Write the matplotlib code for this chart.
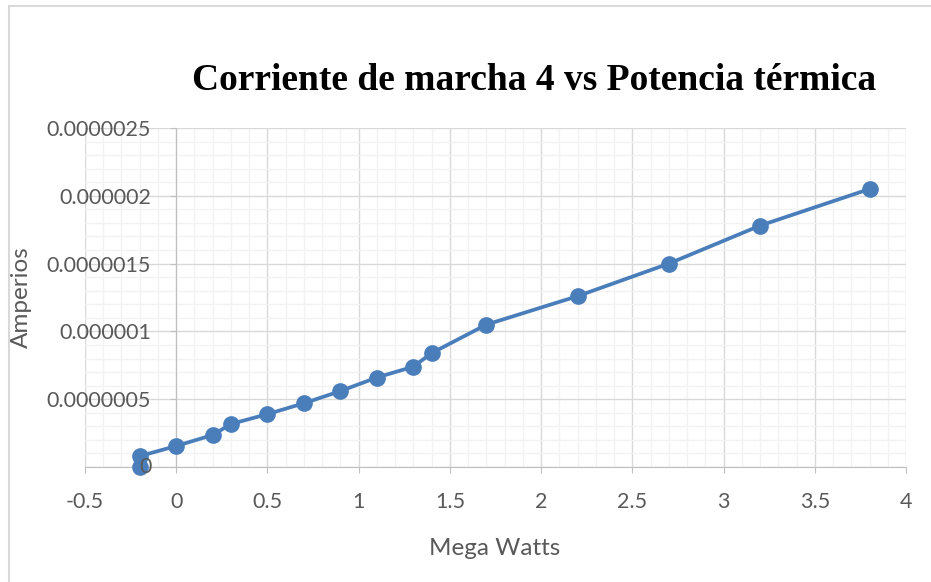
import numpy as np
import matplotlib
matplotlib.use("Agg")
import matplotlib.pyplot as plt
from matplotlib.patches import Rectangle
from matplotlib.ticker import MultipleLocator

# datos
potencia = [-0.2, -0.2, 0.0, 0.2, 0.3, 0.5, 0.7, 0.9, 1.1, 1.3, 1.4, 1.7, 2.2, 2.7, 3.2, 3.8]
corriente = [0.0, 0.08e-6, 0.155e-6, 0.236e-6, 0.317e-6, 0.39e-6, 0.47e-6, 0.56e-6,
             0.66e-6, 0.74e-6, 0.84e-6, 1.05e-6, 1.26e-6, 1.50e-6, 1.78e-6, 2.05e-6]

xticks = [-0.5, 0, 0.5, 1, 1.5, 2, 2.5, 3, 3.5, 4]
xlabels = ["-0.5", "0", "0.5", "1", "1.5", "2", "2.5", "3", "3.5", "4"]
yticks = [0, 0.5e-6, 1e-6, 1.5e-6, 2e-6, 2.5e-6]
ylabels = ["0", "0.0000005", "0.000001", "0.0000015", "0.000002", "0.0000025"]

gris_txt = "#595959"
azul = "#4a7ebb"
fs_tick = 15.5

fig = plt.figure(figsize=(9.31, 5.82), dpi=100)
ax = fig.add_axes([85/931, 1-467/582, (906-85)/931, (467-128)/582])

# borde del area del grafico
fig.patches.append(Rectangle((9/931, -0.1), 1.2, 1-6/582+0.1, transform=fig.transFigure,
                             fill=False, edgecolor="#d9d9d9", linewidth=1.5))

ax.set_xlim(-0.5, 4)
ax.set_ylim(0, 2.5e-6)
ax.xaxis.set_minor_locator(MultipleLocator(0.1))
ax.yaxis.set_minor_locator(MultipleLocator(0.1e-6))
ax.grid(which="minor", color="#f2f2f2", linewidth=1.0, zorder=0)
ax.grid(which="major", color="#d9d9d9", linewidth=1.0, zorder=0)
ax.set_axisbelow(True)

ax.set_xticks(xticks)
ax.set_xticklabels(xlabels)
ax.set_yticks(yticks)
# la etiqueta "0" va encima del marcador, se dibuja aparte
ax.set_yticklabels([""] + ylabels[1:])

for s in ["top", "right"]:
    ax.spines[s].set_visible(False)
ax.spines["left"].set_position(("data", 0))
ax.spines["left"].set_color("#bfbfbf")
ax.spines["bottom"].set_color("#bfbfbf")

ax.tick_params(which="minor", length=0)
ax.tick_params(axis="x", which="major", direction="out", length=4, color="#bfbfbf",
               pad=14, labelsize=fs_tick, labelcolor=gris_txt)
ax.tick_params(axis="y", which="major", direction="out", length=4, color="#bfbfbf",
               pad=14, labelsize=fs_tick, labelcolor=gris_txt)
for t in ax.get_xticklabels() + ax.get_yticklabels():
    t.set_fontfamily("Lato")

ax.plot(potencia, corriente, color=azul, linewidth=2.7, marker="o", markersize=11,
        zorder=3, clip_on=False)

ax.annotate(ylabels[0], xy=(0, yticks[0]), xytext=(-24, 0), textcoords="offset pixels",
            ha="right", va="center", fontsize=fs_tick, color=gris_txt, family="Lato",
            zorder=5, annotation_clip=False)

ax.set_xlabel("Mega Watts", fontsize=17.5, color=gris_txt, family="Lato")
ax.xaxis.set_label_coords((495-85)/(906-85), (467-538)/(467-128))
ax.set_ylabel("Amperios", fontsize=17.5, color=gris_txt, family="Lato")
ax.yaxis.set_label_coords((32-85)/(906-85), (467-297)/(467-128))

fig.text(534/931, 1-81/582, "Corriente de marcha 4 vs Potencia térmica", ha="center",
         va="center", fontsize=27, fontweight="bold", family="Liberation Serif", color="black")

fig.savefig("out.png", dpi=100)
